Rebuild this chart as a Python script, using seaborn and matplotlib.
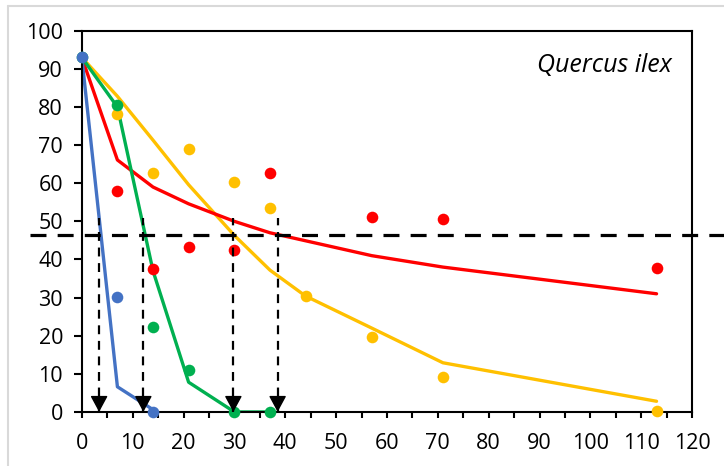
import numpy as np
import pandas as pd
import seaborn as sns
from matplotlib import pyplot as plt
from matplotlib.lines import Line2D
from matplotlib.ticker import MultipleLocator

sns.set_style("white")
plt.rcParams["font.family"] = ["Open Sans", "DejaVu Sans"]

# observed points (days, % value)
blue_x = [0, 7, 14]
blue_y = [93, 30.2, 0]
green_x = [0, 7, 14, 21, 30, 37]
green_y = [93, 80.6, 22.2, 11.1, 0, 0]
red_x = [7, 14, 21, 30, 37, 57, 71, 113]
red_y = [58, 37.5, 43.3, 42.6, 62.6, 51.2, 50.5, 37.8]
yellow_x = [7, 14, 21, 30, 37, 44, 57, 71, 113]
yellow_y = [78.2, 62.8, 68.9, 60.2, 53.5, 30.4, 19.6, 9.2, 0.2]

# fitted curves
blue_fit_x = [0, 7, 14]
blue_fit_y = [93, 6.6, 0.6]
green_fit_x = [0, 7, 14, 21, 30, 37]
green_fit_y = [93, 80, 37, 7.8, 0, 0]
red_fit_x = [0, 7, 14, 21, 30, 37, 57, 71, 113]
red_fit_y = [93, 66.1, 59, 54.6, 50, 47, 41, 38, 31]
yellow_fit_x = [0, 7, 14, 21, 30, 37, 44, 57, 71, 113]
yellow_fit_y = [93, 82.8, 71.3, 59.6, 46.3, 37.2, 30.4, 22, 12.9, 2.8]

# threshold and the times where each curve crosses it
threshold = 46.5
arrow_top = 51
arrow_x = [3.4, 12.1, 29.8, 38.5]

colors = {"blue": "#4472C4", "green": "#00B050", "red": "#FF0000", "yellow": "#FFC000"}

fig = plt.figure(figsize=(7.24, 4.66), dpi=100)
ax = fig.add_axes([0.113, 0.116, 0.843, 0.818])

fits = [("yellow", yellow_fit_x, yellow_fit_y), ("red", red_fit_x, red_fit_y),
        ("green", green_fit_x, green_fit_y), ("blue", blue_fit_x, blue_fit_y)]
for name, fx, fy in fits:
    sns.lineplot(x=fx, y=fy, color=colors[name], lw=2.4, ax=ax, zorder=2)

pts = [("yellow", yellow_x, yellow_y), ("red", red_x, red_y),
       ("green", green_x, green_y), ("blue", blue_x, blue_y)]
for name, px, py in pts:
    sns.scatterplot(x=px, y=py, color=colors[name], s=70, linewidth=0, ax=ax,
                    zorder=3, clip_on=False)

# dashed threshold line, running past the axes on both sides
ax.axhline(threshold, xmin=-0.085, xmax=1.1, color="black", lw=2.3,
           dashes=(5, 3.5), clip_on=False, zorder=4)

# dashed drops down to the x axis, with a solid head
ax.vlines(arrow_x, 0, arrow_top, colors="black", lw=1.6, linestyles=(0, (4, 3)), zorder=5)
for xa in arrow_x:
    ax.annotate("", xy=(xa, 0), xytext=(0, 10.5), textcoords="offset points",
                arrowprops=dict(arrowstyle="-|>,head_length=0.5,head_width=0.27",
                                mutation_scale=20, lw=1, color="black",
                                shrinkA=0, shrinkB=0),
                zorder=6, annotation_clip=False)

ax.text(0.967, 0.91, "Quercus ilex", transform=ax.transAxes, ha="right",
        va="center", fontsize=18, style="italic", color="black")

ax.set_xlim(0, 120)
ax.set_ylim(0, 100)
ax.xaxis.set_major_locator(MultipleLocator(10))
ax.xaxis.set_minor_locator(MultipleLocator(5))
ax.yaxis.set_major_locator(MultipleLocator(10))
ax.tick_params(axis="x", which="both", direction="out", length=4.5, width=1.5,
               bottom=True, labelsize=15.5, pad=11, colors="black")
ax.tick_params(axis="y", which="major", direction="out", length=5.5, width=1.5,
               left=True, labelsize=15.5, pad=8, colors="black")
for sp in ax.spines.values():
    sp.set_color("black")
    sp.set_linewidth(1.5)
ax.set_xlabel("")
ax.set_ylabel("")

# light chart-area border
fig.add_artist(Line2D([8 / 724, 8 / 724], [0, 1 - 6 / 466], transform=fig.transFigure,
                      color="#d9d9d9", lw=1.5))
fig.add_artist(Line2D([8 / 724, 1], [1 - 6 / 466, 1 - 6 / 466], transform=fig.transFigure,
                      color="#d9d9d9", lw=1.5))

fig.savefig("out.png", dpi=100)
